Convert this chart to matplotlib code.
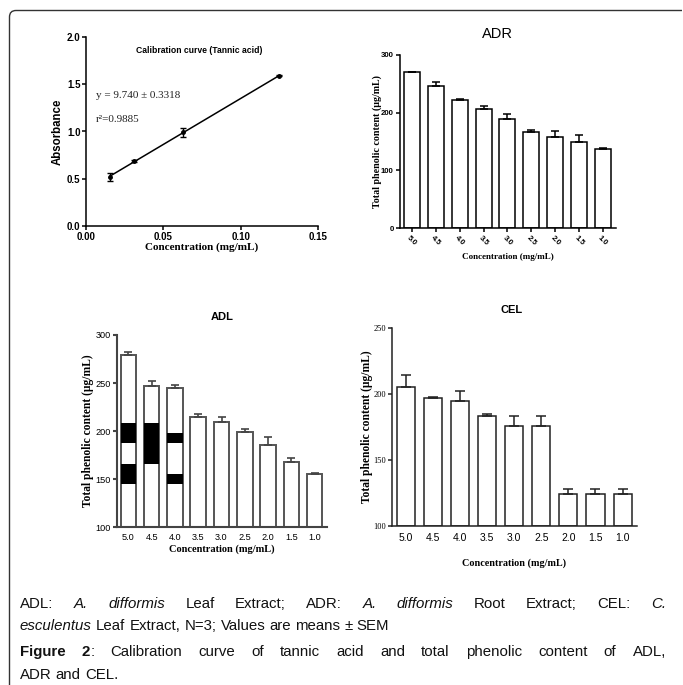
import numpy as np
import matplotlib
matplotlib.use("Agg")
import matplotlib.pyplot as plt
from matplotlib.path import Path
from matplotlib.patches import PathPatch

# ---------------- data ----------------
cal_conc = [0.015625, 0.03125, 0.0625, 0.125]
cal_abs = [0.52, 0.687, 0.991, 1.589]
cal_err = [0.04, 0.015, 0.045, 0.005]

conc_labels = ["5.0", "4.5", "4.0", "3.5", "3.0", "2.5", "2.0", "1.5", "1.0"]

adr_vals = [269.5, 246.5, 221.0, 206.0, 189.5, 166.0, 158.5, 148.5, 136.5]
adr_err = [1.0, 6.5, 3.0, 5.0, 8.0, 4.5, 9.5, 12.0, 3.0]

adl_vals = [279.2, 246.6, 244.5, 214.7, 209.2, 198.8, 185.3, 167.6, 155.1]
adl_err = [3.0, 6.0, 3.2, 3.2, 5.8, 3.8, 8.6, 4.2, 1.1]
# dark blotches visible inside the first ADL bars (bar index, low, high)
adl_dark = [(0, 188.0, 208.0), (0, 145.4, 165.9), (1, 166.0, 208.0),
            (2, 188.0, 198.1), (2, 145.4, 155.5)]

cel_vals = [205.1, 196.5, 194.7, 183.3, 175.5, 175.5, 124.2, 124.2, 124.2]
cel_err = [8.8, 1.2, 7.6, 1.0, 7.8, 7.8, 3.8, 3.8, 3.8]

W, H = 683, 685
fig = plt.figure(figsize=(W / 100, H / 100), dpi=100)
fig.patch.set_facecolor("white")

SANS = "Liberation Sans"
SERIF = "Liberation Serif"


def box(l, r, t, b):
    return [l / W, 1 - b / H, (r - l) / W, (b - t) / H]


def style_axes(ax, color="black", lw=1.0):
    for s in ["top", "right"]:
        ax.spines[s].set_visible(False)
    for s in ["left", "bottom"]:
        ax.spines[s].set_color(color)
        ax.spines[s].set_linewidth(lw)
    ax.tick_params(direction="out", length=3, width=lw, color=color)


# ---------------- calibration ----------------
ax = fig.add_axes(box(86, 318, 37, 226))
style_axes(ax, lw=1.1)
ax.errorbar(cal_conc, cal_abs, yerr=cal_err, fmt="o", color="black", ms=2.5,
            capsize=2, elinewidth=1, capthick=1)
slope, icpt = np.polyfit(cal_conc, cal_abs, 1)
xs = np.array([cal_conc[0], cal_conc[-1]])
ax.plot(xs, slope * xs + icpt, color="black", lw=1.1)
ax.set_xlim(0, 0.15)
ax.set_ylim(0, 2.0)
ax.set_xticks([0.00, 0.05, 0.10, 0.15])
ax.set_xticklabels(["0.00", "0.05", "0.10", "0.15"])
ax.set_yticks([0.0, 0.5, 1.0, 1.5, 2.0])
ax.set_yticklabels(["0.0", "0.5", "1.0", "1.5", "2.0"])
for lab in ax.get_xticklabels() + ax.get_yticklabels():
    lab.set_fontfamily(SANS); lab.set_fontweight("bold"); lab.set_fontsize(7.0)
ax.tick_params(axis="both", pad=1.0)
ax.set_ylabel("Absorbance", fontfamily=SANS, fontweight="bold", fontsize=8.3, va="center")
ax.yaxis.set_label_coords(-0.122, 0.5)
ax.set_xlabel("Concentration (mg/mL)", fontfamily=SERIF, fontweight="bold", fontsize=8, va="center")
ax.xaxis.set_label_coords(0.5, -0.113)
ax.text(0.487, 0.926, "Calibration curve (Tannic acid)", transform=ax.transAxes,
        ha="center", va="center", fontfamily=SANS, fontweight="bold", fontsize=6.2)
ax.text(0.043, 0.688, "y = 9.740 \u00b1 0.3318", transform=ax.transAxes, ha="left",
        va="center", fontfamily=SERIF, fontsize=8, color="#222222")
ax.text(0.043, 0.566, "r\u00b2=0.9885", transform=ax.transAxes, ha="left",
        va="center", fontfamily=SERIF, fontsize=8, color="#222222")

x = np.arange(len(conc_labels))
bw = 0.67

# ---------------- ADR ----------------
ax = fig.add_axes(box(400, 616, 54.7, 228.3))
style_axes(ax, lw=1.1)
ax.bar(x, adr_vals, width=bw, color="white", edgecolor="black", linewidth=1.1)
ax.errorbar(x, adr_vals, yerr=[np.zeros(len(x)), adr_err], fmt="none",
            ecolor="black", elinewidth=1.1, capsize=3.2, capthick=1.1)
ax.set_xlim(-0.5, 8.55)
ax.set_ylim(0, 300)
ax.set_yticks([0, 100, 200, 300])
ax.set_xticks(x)
ax.set_xticklabels(conc_labels, rotation=-45, ha="center", va="top", rotation_mode="default")
for lab in ax.get_xticklabels() + ax.get_yticklabels():
    lab.set_fontfamily(SANS); lab.set_fontweight("bold"); lab.set_fontsize(5.6)
ax.tick_params(axis="both", pad=1.5)
ax.set_ylabel("Total phenolic content (\u00b5g/mL)", fontfamily=SERIF, fontweight="bold",
              fontsize=7.2, va="center")
ax.yaxis.set_label_coords(-0.106, 0.5)
ax.set_xlabel("Concentration (mg/mL)", fontfamily=SERIF, fontweight="bold", fontsize=6.5, va="center")
ax.xaxis.set_label_coords(0.5, -0.165)
ax.text(0.45, 1.119, "ADR", transform=ax.transAxes, ha="center", va="center",
        fontfamily=SANS, fontsize=10.5)

# ---------------- ADL ----------------
ax = fig.add_axes(box(117, 326.7, 335, 527.3))
style_axes(ax, color="#444444", lw=1.5)
ax.bar(x, np.array(adl_vals) - 100, bottom=100, width=bw, color="white",
       edgecolor="#555555", linewidth=1.4)
for i, lo, hi in adl_dark:
    ax.bar(x[i], hi - lo, bottom=lo, width=bw, color="black", edgecolor="none")
ax.errorbar(x, adl_vals, yerr=[np.zeros(len(x)), adl_err], fmt="none",
            ecolor="#444444", elinewidth=1.2, capsize=3.2, capthick=1.2)
ax.set_xlim(-0.49, 8.52)
ax.set_ylim(100, 300)
ax.set_yticks([100, 150, 200, 250, 300])
ax.set_xticks(x)
ax.set_xticklabels(conc_labels)
for lab in ax.get_xticklabels() + ax.get_yticklabels():
    lab.set_fontfamily(SANS); lab.set_fontsize(6.6)
ax.tick_params(axis="both", pad=1.5)
ax.tick_params(axis="x", length=0, pad=4)
ax.set_ylabel("Total phenolic content (\u00b5g/mL)", fontfamily=SERIF, fontweight="bold",
              fontsize=8.3, va="center")
ax.yaxis.set_label_coords(-0.138, 0.5)
ax.set_xlabel("Concentration (mg/mL)", fontfamily=SERIF, fontweight="bold", fontsize=7.5, va="center")
ax.xaxis.set_label_coords(0.5, -0.113)
ax.text(0.5, 1.094, "ADL", transform=ax.transAxes, ha="center", va="center",
        fontfamily=SANS, fontweight="bold", fontsize=8)

# ---------------- CEL ----------------
ax = fig.add_axes(box(392.3, 636.7, 327.7, 525.7))
style_axes(ax, color="#222222", lw=1.1)
ax.bar(x, np.array(cel_vals) - 100, bottom=100, width=bw, color="white",
       edgecolor="#222222", linewidth=1.1)
ax.errorbar(x, cel_vals, yerr=[np.zeros(len(x)), cel_err], fmt="none",
            ecolor="#222222", elinewidth=1.1, capsize=3.6, capthick=1.1)
ax.set_xlim(-0.49, 8.52)
ax.set_ylim(100, 250)
ax.set_yticks([100, 150, 200, 250])
ax.set_xticks(x)
ax.set_xticklabels(conc_labels)
for lab in ax.get_xticklabels():
    lab.set_fontfamily(SANS); lab.set_fontsize(7.5)
for lab in ax.get_yticklabels():
    lab.set_fontfamily(SERIF); lab.set_fontsize(6)
ax.tick_params(axis="both", pad=1.5)
ax.tick_params(axis="x", length=0, pad=5)
ax.set_ylabel("Total phenolic content (\u00b5g/mL)", fontfamily=SERIF, fontweight="bold",
              fontsize=8.3, va="center")
ax.yaxis.set_label_coords(-0.104, 0.5)
ax.set_xlabel("Concentration (mg/mL)", fontfamily=SERIF, fontweight="bold", fontsize=7.3, va="center")
ax.xaxis.set_label_coords(0.5, -0.188)
ax.text(0.49, 1.089, "CEL", transform=ax.transAxes, ha="center", va="center",
        fontfamily=SANS, fontweight="bold", fontsize=8)

# ---------------- border ----------------
verts = [(9.5, 685), (9.5, 17), (9.5, 10.5), (16, 10.5), (682, 10.5)]
codes = [Path.MOVETO, Path.LINETO, Path.CURVE3, Path.CURVE3, Path.LINETO]
verts_f = [(vx / W, 1 - vy / H) for vx, vy in verts]
fig.patches.append(PathPatch(Path(verts_f, codes), transform=fig.transFigure,
                             facecolor="none", edgecolor="#333333", lw=1.0))

# ---------------- caption ----------------
CAP_FAM = "Liberation Sans"
CAP_SIZE = 10.8
renderer = fig.canvas.get_renderer()


def seg_props(style):
    p = dict(fontfamily=CAP_FAM, fontsize=CAP_SIZE, color="#111111")
    if style == "i":
        p["fontstyle"] = "italic"
    if style == "b":
        p["fontweight"] = "bold"
    return p


def line(words, y_px, x0=20, x1=666, justify=True):
    # words: list of lists of (text, style)
    widths = []
    for w in words:
        tot = 0
        for t, s in w:
            tt = fig.text(0, 0, t, **seg_props(s))
            tot += tt.get_window_extent(renderer).width
            tt.remove()
        widths.append(tot)
    sp = fig.text(0, 0, "a a", **seg_props("n"))
    sa = fig.text(0, 0, "aa", **seg_props("n"))
    space = sp.get_window_extent(renderer).width - sa.get_window_extent(renderer).width
    sp.remove(); sa.remove()
    if justify and len(words) > 1:
        gap = (x1 - x0 - sum(widths)) / (len(words) - 1)
    else:
        gap = space
    xp = x0
    for w in words:
        for t, s in w:
            tt = fig.text(xp / W, 1 - y_px / H, t, ha="left", va="baseline", **seg_props(s))
            xp += tt.get_window_extent(renderer).width
        xp += gap


def simple(text_spec):
    out = []
    for t, s in text_spec:
        for word in t.split(" "):
            if word:
                out.append([(word, s)])
    return out


line1 = simple([("ADL:", "n"), ("A. difformis", "i"), ("Leaf Extract; ADR:", "n"),
                ("A. difformis", "i"), ("Root Extract; CEL:", "n"), ("C.", "i")])
line(line1, 608)
line2 = simple([("esculentus", "i"), ("Leaf Extract, N=3; Values are means \u00b1 SEM", "n")])
line(line2, 630, justify=False)
line3 = [[("Figure", "b")], [("2", "b"), (":", "n")]] + simple(
    [("Calibration curve of tannic acid and total phenolic content of ADL,", "n")])
line(line3, 656)
line4 = simple([("ADR and CEL.", "n")])
line(line4, 679, justify=False)

fig.savefig("out.png", dpi=100)
